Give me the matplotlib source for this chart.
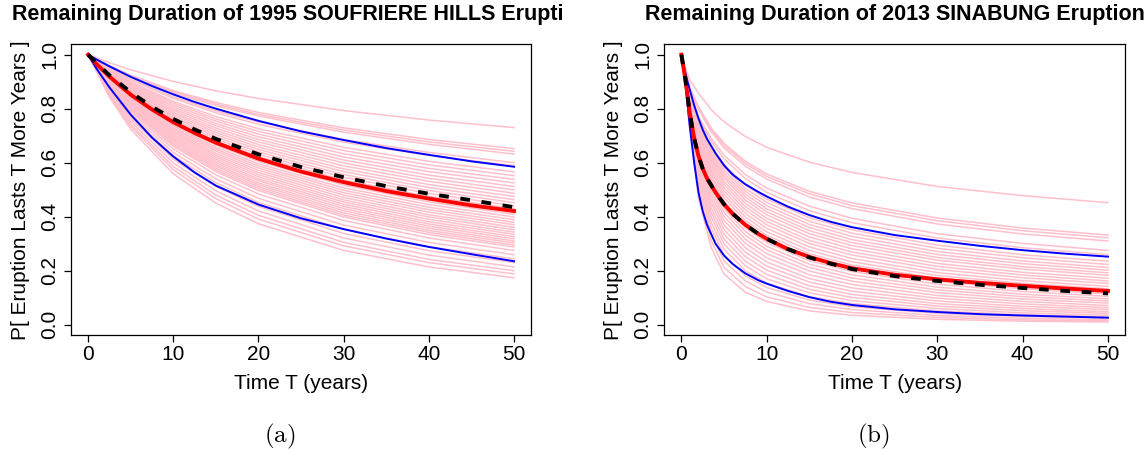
import matplotlib
matplotlib.use("Agg")
import matplotlib.pyplot as plt
from matplotlib.transforms import Bbox, TransformedBbox

plt.rcParams['font.family'] = ['Liberation Sans', 'DejaVu Sans']
plt.rcParams['mathtext.fontset'] = 'cm'

# ---------------- data ----------------
# panel (a): 1995 Soufriere Hills
T_A = [0, 2.5, 5, 10, 15, 20, 30, 40, 50]
pink_a = [
    [1, 0.970, 0.944, 0.901, 0.866, 0.838, 0.793, 0.758, 0.730],
    [1, 0.959, 0.924, 0.867, 0.823, 0.786, 0.729, 0.686, 0.652],
    [1, 0.958, 0.922, 0.863, 0.817, 0.779, 0.721, 0.677, 0.642],
    [1, 0.956, 0.919, 0.858, 0.811, 0.773, 0.713, 0.668, 0.632],
    [1, 0.951, 0.910, 0.844, 0.792, 0.751, 0.686, 0.638, 0.600],
    [1, 0.949, 0.907, 0.838, 0.785, 0.742, 0.676, 0.627, 0.589],
    [1, 0.946, 0.900, 0.827, 0.771, 0.726, 0.657, 0.605, 0.566],
    [1, 0.943, 0.896, 0.821, 0.762, 0.716, 0.645, 0.592, 0.552],
    [1, 0.941, 0.892, 0.814, 0.754, 0.706, 0.633, 0.579, 0.538],
    [1, 0.939, 0.888, 0.807, 0.745, 0.696, 0.621, 0.567, 0.525],
    [1, 0.937, 0.884, 0.800, 0.737, 0.686, 0.610, 0.554, 0.512],
    [1, 0.934, 0.880, 0.794, 0.728, 0.677, 0.599, 0.542, 0.499],
    [1, 0.932, 0.876, 0.787, 0.720, 0.667, 0.588, 0.531, 0.487],
    [1, 0.930, 0.872, 0.781, 0.712, 0.658, 0.577, 0.519, 0.475],
    [1, 0.927, 0.868, 0.774, 0.704, 0.649, 0.567, 0.508, 0.463],
    [1, 0.925, 0.864, 0.768, 0.696, 0.640, 0.556, 0.497, 0.452],
    [1, 0.923, 0.860, 0.761, 0.688, 0.631, 0.546, 0.486, 0.440],
    [1, 0.921, 0.856, 0.755, 0.680, 0.622, 0.536, 0.475, 0.430],
    [1, 0.918, 0.852, 0.749, 0.673, 0.613, 0.526, 0.465, 0.419],
    [1, 0.916, 0.848, 0.743, 0.665, 0.605, 0.517, 0.455, 0.409],
    [1, 0.914, 0.844, 0.737, 0.657, 0.596, 0.507, 0.445, 0.399],
    [1, 0.912, 0.840, 0.730, 0.650, 0.588, 0.498, 0.435, 0.389],
    [1, 0.909, 0.836, 0.724, 0.643, 0.580, 0.489, 0.426, 0.379],
    [1, 0.907, 0.832, 0.718, 0.635, 0.572, 0.480, 0.417, 0.370],
    [1, 0.905, 0.829, 0.713, 0.628, 0.564, 0.471, 0.407, 0.361],
    [1, 0.903, 0.825, 0.707, 0.621, 0.556, 0.462, 0.399, 0.352],
    [1, 0.901, 0.821, 0.701, 0.614, 0.548, 0.454, 0.390, 0.343],
    [1, 0.898, 0.817, 0.695, 0.607, 0.540, 0.446, 0.381, 0.335],
    [1, 0.896, 0.813, 0.689, 0.600, 0.533, 0.438, 0.373, 0.326],
    [1, 0.894, 0.810, 0.684, 0.593, 0.525, 0.430, 0.365, 0.318],
    [1, 0.892, 0.806, 0.678, 0.587, 0.518, 0.422, 0.357, 0.310],
    [1, 0.890, 0.802, 0.672, 0.580, 0.511, 0.414, 0.349, 0.303],
    [1, 0.888, 0.799, 0.667, 0.573, 0.504, 0.406, 0.342, 0.295],
    [1, 0.885, 0.795, 0.661, 0.567, 0.497, 0.399, 0.334, 0.288],
    [1, 0.881, 0.788, 0.651, 0.555, 0.484, 0.386, 0.321, 0.275],
    [1, 0.876, 0.780, 0.638, 0.540, 0.468, 0.369, 0.305, 0.259],
    [1, 0.871, 0.771, 0.626, 0.526, 0.453, 0.353, 0.289, 0.244],
    [1, 0.866, 0.763, 0.613, 0.512, 0.438, 0.338, 0.274, 0.230],
    [1, 0.860, 0.753, 0.599, 0.496, 0.421, 0.321, 0.258, 0.214],
    [1, 0.854, 0.743, 0.586, 0.480, 0.405, 0.305, 0.242, 0.200],
    [1, 0.849, 0.735, 0.574, 0.467, 0.391, 0.292, 0.230, 0.188],
    [1, 0.843, 0.724, 0.559, 0.450, 0.374, 0.275, 0.214, 0.174],
]
T_A_line = [0, 1, 2.5, 5, 7.5, 10, 12.5, 15, 20, 25, 30, 35, 40, 45, 50]
upper_a = [1, 0.982, 0.957, 0.918, 0.884, 0.853, 0.825, 0.800, 0.755, 0.716, 0.684, 0.654, 0.629, 0.605, 0.585]
lower_a = [1, 0.948, 0.879, 0.778, 0.693, 0.623, 0.564, 0.515, 0.445, 0.394, 0.354, 0.319, 0.288, 0.261, 0.235]
red_a = [1, 0.965, 0.919, 0.852, 0.797, 0.750, 0.710, 0.674, 0.615, 0.567, 0.528, 0.495, 0.467, 0.442, 0.421]
black_a = [1, 0.968, 0.924, 0.861, 0.807, 0.762, 0.723, 0.688, 0.631, 0.584, 0.546, 0.513, 0.485, 0.461, 0.435]

# panel (b): 2013 Sinabung
T_B = [0, 0.5, 1, 2, 3.5, 5, 7.5, 10, 15, 20, 30, 40, 50]
pink_b = [
    [1, 0.950, 0.905, 0.858, 0.796, 0.751, 0.697, 0.657, 0.602, 0.564, 0.512, 0.478, 0.452],
    [1, 0.934, 0.878, 0.808, 0.728, 0.672, 0.605, 0.558, 0.494, 0.451, 0.395, 0.358, 0.332],
    [1, 0.932, 0.875, 0.804, 0.722, 0.664, 0.597, 0.549, 0.485, 0.441, 0.385, 0.348, 0.322],
    [1, 0.930, 0.872, 0.798, 0.714, 0.655, 0.587, 0.539, 0.473, 0.430, 0.373, 0.336, 0.310],
    [1, 0.925, 0.865, 0.770, 0.690, 0.628, 0.556, 0.506, 0.439, 0.394, 0.337, 0.301, 0.275],
    [1, 0.924, 0.862, 0.763, 0.679, 0.614, 0.541, 0.490, 0.422, 0.378, 0.321, 0.285, 0.259],
    [1, 0.922, 0.857, 0.751, 0.661, 0.593, 0.517, 0.465, 0.396, 0.351, 0.295, 0.259, 0.235],
    [1, 0.922, 0.854, 0.745, 0.652, 0.582, 0.505, 0.453, 0.383, 0.339, 0.283, 0.248, 0.223],
    [1, 0.921, 0.852, 0.739, 0.643, 0.572, 0.494, 0.441, 0.371, 0.327, 0.271, 0.236, 0.212],
    [1, 0.920, 0.849, 0.733, 0.634, 0.561, 0.483, 0.429, 0.360, 0.315, 0.260, 0.226, 0.202],
    [1, 0.919, 0.846, 0.727, 0.626, 0.551, 0.472, 0.418, 0.348, 0.304, 0.249, 0.215, 0.192],
    [1, 0.919, 0.844, 0.722, 0.617, 0.542, 0.461, 0.407, 0.337, 0.293, 0.239, 0.206, 0.183],
    [1, 0.918, 0.840, 0.715, 0.608, 0.530, 0.449, 0.394, 0.325, 0.281, 0.227, 0.194, 0.172],
    [1, 0.917, 0.838, 0.709, 0.598, 0.519, 0.437, 0.382, 0.312, 0.269, 0.216, 0.184, 0.162],
    [1, 0.916, 0.834, 0.702, 0.588, 0.507, 0.425, 0.370, 0.301, 0.258, 0.205, 0.174, 0.153],
    [1, 0.915, 0.831, 0.694, 0.577, 0.495, 0.412, 0.357, 0.288, 0.245, 0.193, 0.163, 0.142],
    [1, 0.914, 0.828, 0.687, 0.566, 0.482, 0.399, 0.344, 0.275, 0.233, 0.182, 0.153, 0.133],
    [1, 0.913, 0.824, 0.680, 0.555, 0.470, 0.386, 0.331, 0.263, 0.221, 0.172, 0.143, 0.124],
    [1, 0.912, 0.820, 0.672, 0.544, 0.457, 0.372, 0.318, 0.250, 0.209, 0.161, 0.133, 0.114],
    [1, 0.911, 0.817, 0.664, 0.533, 0.444, 0.359, 0.304, 0.237, 0.197, 0.150, 0.123, 0.105],
    [1, 0.909, 0.812, 0.655, 0.519, 0.430, 0.345, 0.290, 0.224, 0.185, 0.139, 0.113, 0.096],
    [1, 0.908, 0.808, 0.646, 0.507, 0.416, 0.331, 0.277, 0.212, 0.173, 0.129, 0.104, 0.088],
    [1, 0.906, 0.803, 0.636, 0.494, 0.401, 0.316, 0.263, 0.199, 0.161, 0.119, 0.095, 0.080],
    [1, 0.905, 0.798, 0.626, 0.479, 0.386, 0.301, 0.248, 0.185, 0.149, 0.108, 0.086, 0.071],
    [1, 0.903, 0.793, 0.614, 0.464, 0.369, 0.285, 0.232, 0.171, 0.136, 0.098, 0.077, 0.063],
    [1, 0.901, 0.787, 0.602, 0.449, 0.352, 0.268, 0.217, 0.158, 0.124, 0.088, 0.068, 0.056],
    [1, 0.899, 0.780, 0.590, 0.432, 0.335, 0.252, 0.202, 0.144, 0.112, 0.078, 0.060, 0.048],
    [1, 0.898, 0.774, 0.577, 0.416, 0.317, 0.235, 0.186, 0.131, 0.101, 0.069, 0.052, 0.042],
    [1, 0.895, 0.766, 0.564, 0.398, 0.299, 0.218, 0.170, 0.118, 0.089, 0.060, 0.044, 0.035],
    [1, 0.893, 0.759, 0.548, 0.378, 0.279, 0.200, 0.154, 0.104, 0.078, 0.051, 0.037, 0.029],
    [1, 0.890, 0.750, 0.532, 0.358, 0.258, 0.181, 0.138, 0.091, 0.067, 0.042, 0.031, 0.024],
    [1, 0.886, 0.740, 0.514, 0.336, 0.236, 0.162, 0.121, 0.078, 0.056, 0.034, 0.024, 0.018],
    [1, 0.882, 0.728, 0.493, 0.311, 0.212, 0.141, 0.103, 0.064, 0.045, 0.027, 0.018, 0.014],
    [1, 0.878, 0.715, 0.470, 0.285, 0.187, 0.120, 0.086, 0.051, 0.035, 0.020, 0.013, 0.010],
]
T_B_line = [0, 0.25, 0.5, 0.75, 1, 1.5, 2, 2.5, 3, 4, 5, 6, 7.5, 9, 10,
            12.5, 15, 17.5, 20, 25, 30, 35, 40, 45, 50]
upper_b = [1, 0.962, 0.928, 0.896, 0.868, 0.812, 0.764, 0.722, 0.688, 0.635, 0.590, 0.556, 0.520,
           0.492, 0.475, 0.437, 0.406, 0.381, 0.361, 0.332, 0.311, 0.292, 0.276, 0.263, 0.252]
lower_b = [1, 0.955, 0.885, 0.805, 0.730, 0.600, 0.490, 0.420, 0.370, 0.300, 0.256, 0.225, 0.190,
           0.165, 0.152, 0.125, 0.102, 0.085, 0.073, 0.057, 0.047, 0.039, 0.034, 0.030, 0.026]
red_b = [1, 0.950, 0.900, 0.840, 0.780, 0.690, 0.625, 0.578, 0.542, 0.490, 0.446, 0.411, 0.370,
         0.337, 0.318, 0.280, 0.251, 0.228, 0.209, 0.185, 0.168, 0.155, 0.144, 0.134, 0.125]
black_b = [1, 0.950, 0.900, 0.840, 0.780, 0.690, 0.625, 0.578, 0.542, 0.490, 0.446, 0.411, 0.370,
           0.337, 0.318, 0.280, 0.249, 0.226, 0.206, 0.180, 0.162, 0.148, 0.136, 0.125, 0.116]

titles = ['Remaining Duration of 1995 SOUFRIERE HILLS Eruption',
          'Remaining Duration of 2013 SINABUNG Eruption']
x_ticks = [0, 10, 20, 30, 40, 50]
y_ticks = [0.0, 0.2, 0.4, 0.6, 0.8, 1.0]


def draw_panel(ax, t_pink, pinks, t_line, upper, lower, red, black):
    for row in pinks:
        ax.plot(t_pink, row, color='pink', lw=1.1)
    ax.plot(t_line, upper, color='blue', lw=1.4)
    ax.plot(t_line, lower, color='blue', lw=1.4)
    ax.plot(t_line, red, color='red', lw=2.8)
    ax.plot(t_line, black, color='black', lw=2.8, ls=(0, (2.5, 3.0)))

    ax.set_xlim(-2, 52)
    ax.set_ylim(-0.04, 1.04)
    ax.set_xticks(x_ticks)
    ax.set_xticklabels([str(v) for v in x_ticks])
    ax.set_yticks(y_ticks)
    ax.set_yticklabels(['%.1f' % v for v in y_ticks], rotation=90, va='center')
    ax.tick_params(direction='out', length=5, width=0.9, labelsize=15)
    ax.tick_params(axis='x', pad=1.5)
    ax.tick_params(axis='y', pad=3.5)
    for s in ax.spines.values():
        s.set_linewidth(0.9)
    ax.set_xlabel('Time T (years)', fontsize=15)
    ax.set_ylabel('P[ Eruption Lasts T More Years ]', fontsize=15)
    ax.xaxis.set_label_coords(0.5, -0.165)
    ax.xaxis.label.set_va('center')
    ax.yaxis.set_label_coords(-0.11, 0.5)
    ax.yaxis.label.set_va('center')


fig = plt.figure(figsize=(11.48, 4.51), dpi=100)
ax1 = fig.add_axes([0.0619, 0.2561, 0.4007, 0.6466])
ax2 = fig.add_axes([0.5787, 0.2561, 0.4013, 0.6466])

draw_panel(ax1, T_A, pink_a, T_A_line, upper_a, lower_a, red_a, black_a)
draw_panel(ax2, T_B, pink_b, T_B_line, upper_b, lower_b, red_b, black_b)

# titles (the left one is cut off at the edge of its sub-figure)
t1 = fig.text(0.2622, 0.9557, titles[0], ha='center', va='baseline',
              fontsize=15.5, fontweight='bold')
t1.set_clip_box(TransformedBbox(Bbox([[0, 0], [563 / 1148, 1]]), fig.transFigure))
t1.set_clip_on(True)
fig.text(0.7793, 0.9557, titles[1], ha='center', va='baseline',
         fontsize=15.5, fontweight='bold')

fig.text(0.2439, 0.032, r'$\mathrm{(a)}$', ha='center', va='center', fontsize=18)
fig.text(0.7609, 0.032, r'$\mathrm{(b)}$', ha='center', va='center', fontsize=18)

fig.savefig('out.png', dpi=100)
